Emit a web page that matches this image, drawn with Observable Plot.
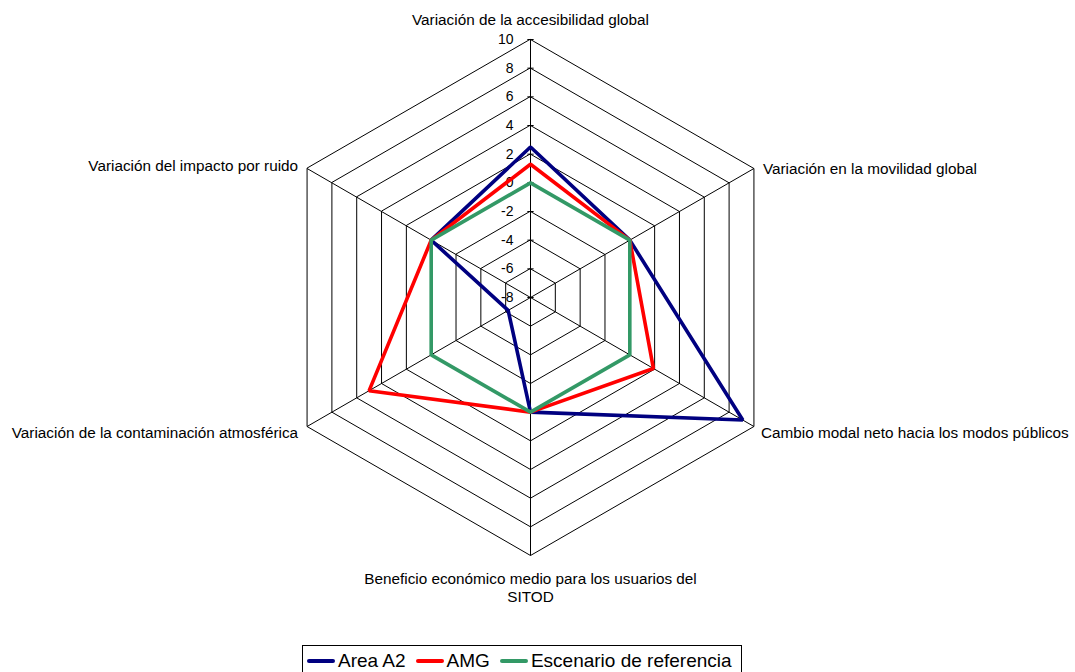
<!DOCTYPE html>
<html>
<head>
<meta charset="utf-8">
<script src="https://cdn.jsdelivr.net/npm/d3@7"></script>
<script src="https://cdn.jsdelivr.net/npm/@observablehq/plot@0.6"></script>
<style>
  html, body { margin: 0; padding: 0; background: #fff; overflow: hidden; }
  body { width: 1075px; height: 672px; position: relative; font-family: "Liberation Sans", Arial, sans-serif; }
  #chart { position: absolute; left: 0; top: 0; }
  #legend { position: absolute; left: 302px; top: 645px; width: 440px; height: 32px; border: 1px solid #000;
            display: flex; align-items: center; padding-left: 4px; font-size: 19px; color: #000; box-sizing: border-box;
            white-space: nowrap; }
  .item { display: flex; align-items: center; margin-right: 10px; flex-shrink: 0; white-space: nowrap; }
  .sw { display: inline-block; width: 28px; height: 4px; margin-right: 3px; border-radius: 2px; flex-shrink: 0; }
</style>
</head>
<body>
<div id="chart"></div>
<div id="legend"></div>
<script>
// ---- data ----
const categories = [
  "Variación de la accesibilidad global",
  "Variación en la movilidad global",
  "Cambio modal neto hacia los modos públicos",
  "Beneficio económico medio para los usuarios del\nSITOD",
  "Variación de la contaminación atmosférica",
  "Variación del impacto por ruido"
];
const seriesNames = ["Area A2", "AMG", "Escenario de referencia"];
const areaA2 = [2.5, 0, 9.1, 0, -6.2, 0];
const amg = [1.3, 0, 1.9, 0, 5.0, 0];
const referencia = [0, 0, 0, 0, 0, 0];
const tickValues = [-8, -6, -4, -2, 0, 2, 4, 6, 8, 10];
const colors = ["#000080", "#FF0000", "#339966"];

// ---- geometry helpers (radial axis: min at centre) ----
const vMin = -8, vMax = 10;
const W = 1075, H = 640;
const cx = 530, cy = 297, R = 258;
const k = R / (vMax - vMin); // px per unit
const n = categories.length;
const ang = i => i * 2 * Math.PI / n;
const pt = (i, v) => ({x: (v - vMin) * Math.sin(ang(i)), y: (v - vMin) * Math.cos(ang(i))});

// rings
const rings = [];
tickValues.slice(1).forEach(t => { for (let i = 0; i < n; i++) rings.push({ring: t, ...pt(i, t)}); });
// spokes
const spokes = categories.map((c, i) => ({x1: 0, y1: 0, x2: pt(i, vMax).x, y2: pt(i, vMax).y}));
// series
const allSeries = [areaA2, amg, referencia];
const seriesPts = [];
allSeries.forEach((s, si) => s.forEach((v, i) => seriesPts.push({serie: seriesNames[si], ...pt(i, v)})));
// ticks on the first axis
const ticks = tickValues.map(t => ({t, ...pt(0, t)}));
// category labels
const labelPos = categories.map((c, i) => ({label: c, ...pt(i, vMax)}));
const anchors = ["middle", "start", "start", "middle", "end", "end"];
const dxs = [0, 9, 7, 0, -9, -9];
const dys = [-20, 0, 6, 15, 6, -3];

const chart = Plot.plot({
  width: W, height: H,
  margin: 0,
  x: {domain: [-cx / k, (W - cx) / k], axis: null},
  y: {domain: [-(H - cy) / k, cy / k], axis: null},
  style: {fontFamily: "'Liberation Sans', Arial, sans-serif", background: "transparent"},
  marks: [
    Plot.line(rings, {x: "x", y: "y", z: "ring", curve: "linear-closed", stroke: "#000", strokeWidth: 1}),
    Plot.link(spokes, {x1: "x1", y1: "y1", x2: "x2", y2: "y2", stroke: "#000", strokeWidth: 1}),
    Plot.link(ticks, {x1: d => d.x - 0.22, x2: d => d.x + 0.22, y1: "y", y2: "y", stroke: "#000", strokeWidth: 1}),
    Plot.text(ticks, {x: "x", y: "y", text: d => String(d.t), textAnchor: "end", dx: -17, fontSize: 14, fill: "#000"}),
    ...seriesNames.map((s, si) =>
      Plot.line(seriesPts.filter(d => d.serie === s), {x: "x", y: "y", curve: "linear-closed", stroke: colors[si], strokeWidth: 3.6, strokeLinejoin: "miter"})
    ),
    ...labelPos.map((d, i) =>
      Plot.text([d], {x: "x", y: "y", text: "label", textAnchor: anchors[i], dx: dxs[i], dy: dys[i],
        lineAnchor: i === 3 ? "top" : "middle", lineHeight: 1.2, fontSize: 15.3, fill: "#000"})
    )
  ]
});
document.getElementById("chart").appendChild(chart);

const leg = document.getElementById("legend");
seriesNames.forEach((s, i) => {
  const it = document.createElement("span");
  it.className = "item";
  it.innerHTML = `<span class="sw" style="background:${colors[i]}"></span><span>${s}</span>`;
  leg.appendChild(it);
});
</script>
</body>
</html>
